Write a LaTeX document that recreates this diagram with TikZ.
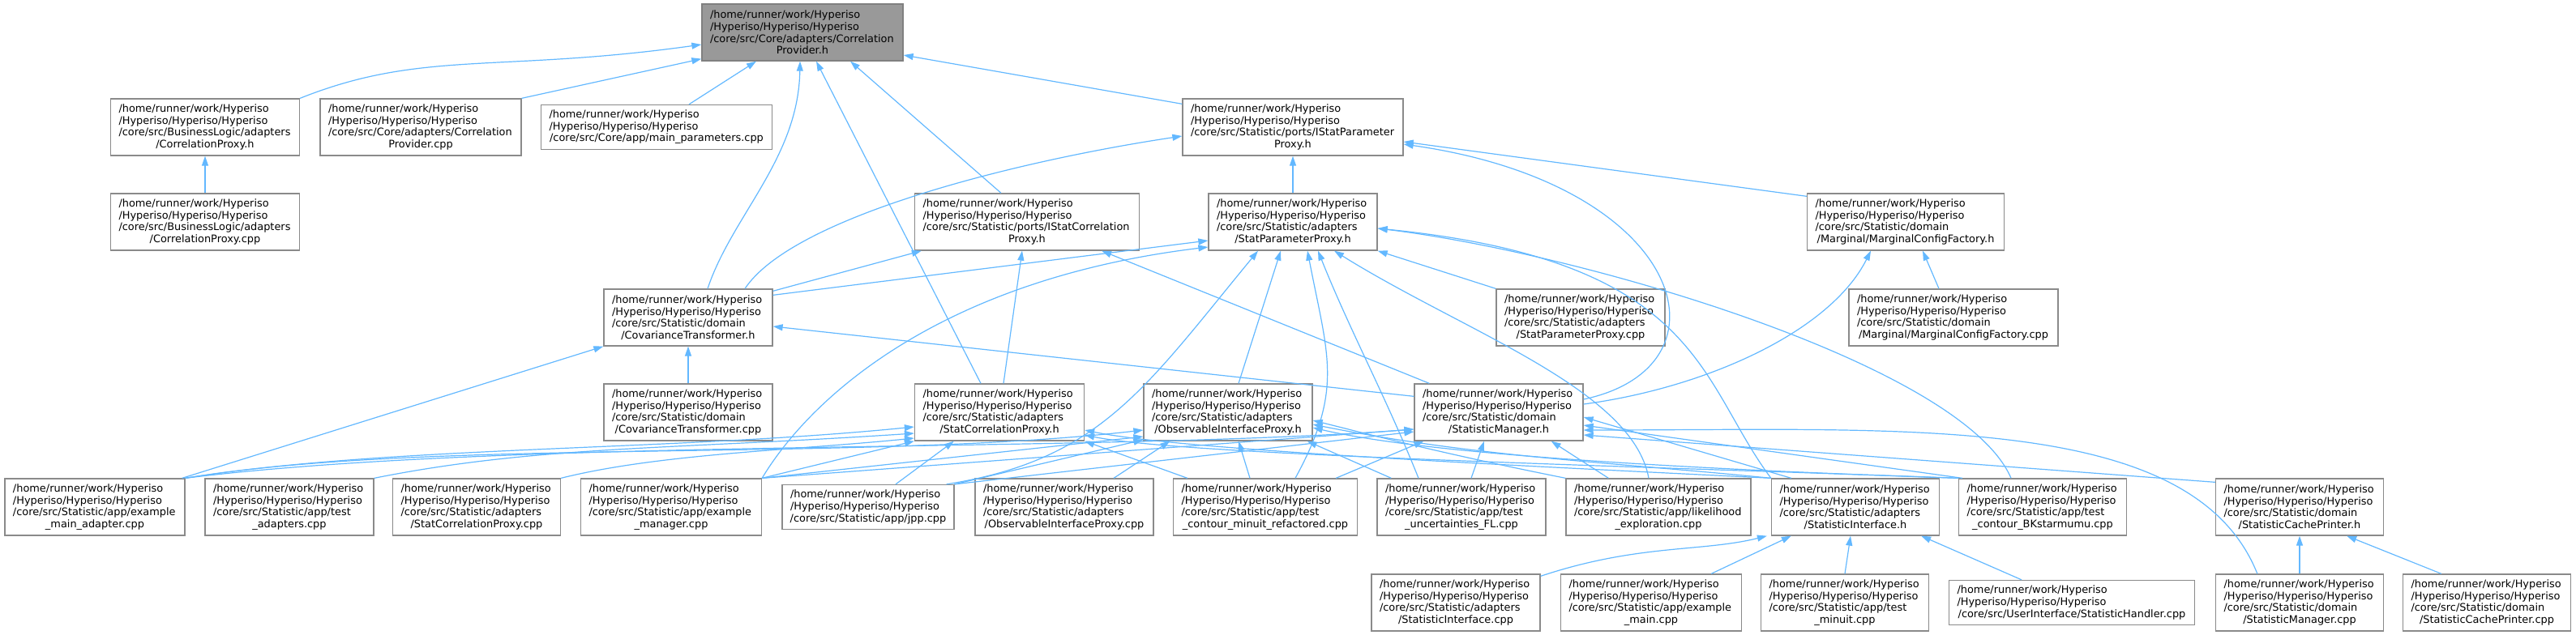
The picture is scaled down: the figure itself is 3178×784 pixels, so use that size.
\documentclass[tikz,border=0pt]{standalone}
\usepackage{fontspec}
\setmainfont{DejaVu Sans}
\usetikzlibrary{arrows.meta,calc}
\definecolor{edgeblue}{HTML}{63B8FF}
\definecolor{boxgray}{HTML}{8A8A8A}
\definecolor{rootfill}{HTML}{999999}
\newcommand{\hy}{/home/runner/work/Hyperiso\\/Hyperiso/Hyperiso/Hyperiso\\}
\newcommand{\lastln}[1]{\hbox to\hsize{\hss#1\hss}}
\tikzset{
  file/.style={draw=boxgray, line width=1.3pt, fill=white, inner xsep=10pt, inner ysep=0pt,
    minimum height=70pt, align=left, font=\fontsize{12.9pt}{14.6pt}\selectfont},
  edge/.style={draw=edgeblue, line width=1.2pt, -{Triangle[length=12pt,width=8pt]}}
}
\begin{document}
\begin{tikzpicture}[x=1pt,y=-1pt]
        \useasboundingbox (0,0) rectangle (3178,784);
        % root
        \node[file, fill=rootfill, draw=gray, text width=228pt] (root) at (990,40) {\hy/core/src/Core/adapters/Correlation\\\lastln{Provider.h}};
        % rank 1
        \node[file, text width=213pt] (cpxh) at (253,157) {\hy/core/src/BusinessLogic/adapters\\\lastln{/CorrelationProxy.h}};
        \node[file, text width=228pt] (cpvcpp) at (519,157) {\hy/core/src/Core/adapters/Correlation\\\lastln{Provider.cpp}};
        \node[file, text width=265pt, minimum height=55pt] (mainpar) at (810,157) {\hy\lastln{/core/src/Core/app/main\_parameters.cpp}};
        \node[file, text width=252pt] (ispph) at (1595,157) {\hy/core/src/Statistic/ports/IStatParameter\\\lastln{Proxy.h}};
        % rank 2
        \node[file, text width=213pt] (cpxcpp) at (253,274) {\hy/core/src/BusinessLogic/adapters\\\lastln{/CorrelationProxy.cpp}};
        \node[file, text width=257pt] (iscph) at (1267,274) {\hy/core/src/Statistic/ports/IStatCorrelation\\\lastln{Proxy.h}};
        \node[file, text width=188pt] (spph) at (1595,274) {\hy/core/src/Statistic/adapters\\\lastln{/StatParameterProxy.h}};
        \node[file, text width=223pt] (mcfh) at (2351,274) {\hy/core/src/Statistic/domain\\\lastln{/Marginal/MarginalConfigFactory.h}};
        % rank 3
        \node[file, text width=188pt] (cth) at (849,392) {\hy/core/src/Statistic/domain\\\lastln{/CovarianceTransformer.h}};
        \node[file, text width=188pt] (sppcpp) at (1950,392) {\hy/core/src/Statistic/adapters\\\lastln{/StatParameterProxy.cpp}};
        \node[file, text width=238pt] (mcfcpp) at (2410,392) {\hy/core/src/Statistic/domain\\\lastln{/Marginal/MarginalConfigFactory.cpp}};
        % rank 4
        \node[file, text width=188pt] (ctcpp) at (849,509) {\hy/core/src/Statistic/domain\\\lastln{/CovarianceTransformer.cpp}};
        \node[file, text width=189pt] (scph) at (1233,509) {\hy/core/src/Statistic/adapters\\\lastln{/StatCorrelationProxy.h}};
        \node[file, text width=188pt] (oiph) at (1515,509) {\hy/core/src/Statistic/adapters\\\lastln{/ObservableInterfaceProxy.h}};
        \node[file, text width=188pt] (smh) at (1849,509) {\hy/core/src/Statistic/domain\\\lastln{/StatisticManager.h}};
        % rank 5
        \node[file, text width=202pt] (ema) at (117,626) {\hy/core/src/Statistic/app/example\\\lastln{\_main\_adapter.cpp}};
        \node[file, text width=188pt] (tad) at (357,626) {\hy/core/src/Statistic/app/test\\\lastln{\_adapters.cpp}};
        \node[file, text width=187pt] (scpcpp) at (588,626) {\hy/core/src/Statistic/adapters\\\lastln{/StatCorrelationProxy.cpp}};
        \node[file, text width=203pt] (emg) at (828,626) {\hy/core/src/Statistic/app/example\\\lastln{\_manager.cpp}};
        \node[file, text width=192pt, minimum height=55pt] (jpp) at (1071,626) {\hy\lastln{/core/src/Statistic/app/jpp.cpp}};
        \node[file, text width=200pt] (oipcpp) at (1313,626) {\hy/core/src/Statistic/adapters\\\lastln{/ObservableInterfaceProxy.cpp}};
        \node[file, text width=207pt] (tcmr) at (1561,626) {\hy/core/src/Statistic/app/test\\\lastln{\_contour\_minuit\_refactored.cpp}};
        \node[file, text width=188pt] (tufl) at (1803,626) {\hy/core/src/Statistic/app/test\\\lastln{\_uncertainties\_FL.cpp}};
        \node[file, text width=208pt] (lhe) at (2046,626) {\hy/core/src/Statistic/app/likelihood\\\lastln{\_exploration.cpp}};
        \node[file, text width=187pt] (sih) at (2289,626) {\hy/core/src/Statistic/adapters\\\lastln{/StatisticInterface.h}};
        \node[file, text width=187pt] (tcbk) at (2520,626) {\hy/core/src/Statistic/app/test\\\lastln{\_contour\_BKstarmumu.cpp}};
        \node[file, text width=187pt] (scprh) at (2837,626) {\hy/core/src/Statistic/domain\\\lastln{/StatisticCachePrinter.h}};
        % rank 6
        \node[file, text width=188pt] (sicpp) at (1796,744) {\hy/core/src/Statistic/adapters\\\lastln{/StatisticInterface.cpp}};
        \node[file, text width=203pt] (exmain) at (2037,744) {\hy/core/src/Statistic/app/example\\\lastln{\_main.cpp}};
        \node[file, text width=187pt] (tmin) at (2276,744) {\hy/core/src/Statistic/app/test\\\lastln{\_minuit.cpp}};
        \node[file, text width=283pt, minimum height=55pt] (shcpp) at (2556,744) {\hy\lastln{/core/src/UserInterface/StatisticHandler.cpp}};
        \node[file, text width=187pt] (smcpp) at (2837,744) {\hy/core/src/Statistic/domain\\\lastln{/StatisticManager.cpp}};
        \node[file, text width=187pt] (scprcpp) at (3068,744) {\hy/core/src/Statistic/domain\\\lastln{/StatisticCachePrinter.cpp}};

        % into root
        \draw[edge] (cpxh.north east) .. controls +(150,-60) and +(-250,35) .. ($(root.west)+(0,15)$);
        \draw[edge] (cpvcpp.north east) -- ($(root.south west)+(0,-3)$);
        \draw[edge] ($(mainpar.north)+(40,0)$) -- ($(root.south)+(-57,0)$);
        \draw[edge] ($(cth.north)+(24,0)$) .. controls +(30,-90) and +(-2,120) .. ($(root.south)+(-3,0)$);
        \draw[edge] ($(iscph.north)+(-32,0)$) -- ($(root.south)+(59,0)$);
        \draw[edge] ($(scph.north)+(-23,0)$) -- ($(root.south)+(17,0)$);
        \draw[edge] ($(ispph.north west)+(0,7)$) -- ($(root.east)+(0,28)$);
        \draw[edge] (cpxcpp) -- (cpxh);
        % into IStatParameterProxy.h
        \draw[edge] ($(cth.north)+(70,0)$) .. controls +(60,-90) and +(-200,30) .. ($(ispph.west)+(0,11)$);
        \draw[edge] (spph) -- (ispph);
        \draw[edge] ($(mcfh.north west)+(0,4)$) -- ($(ispph.east)+(0,18)$);
        \draw[edge] ($(smh.east)+(0,-16)$) .. controls +(190,-40) and +(350,50) .. ($(ispph.east)+(0,21)$);
        % into IStatCorrelationProxy.h
        \draw[edge] ($(scph.north)+(5,0)$) -- ($(iscph.south)+(-6,0)$);
        \draw[edge] ($(cth.north east)+(0,3)$) -- ($(iscph.south west)+(9,0)$);
        \draw[edge] ($(smh.north west)+(19,0)$) -- ($(iscph.south east)+(-47,0)$);
        % into StatParameterProxy.h
        \draw[edge] ($(cth.north east)+(0,8)$) -- ($(spph.west)+(0,23)$);
        \draw[edge] (emg.north east) .. controls +(60,-100) and +(-330,40) .. ($(spph.west)+(0,31)$);
        \draw[edge] ($(jpp.north east)+(-10,0)$) .. controls +(190,-30) and +(-140,170) .. ($(spph.south)+(-43,0)$);
        \draw[edge] ($(oiph.north)+(13,0)$) -- ($(spph.south)+(-15,0)$);
        \draw[edge] ($(tcmr.north)+(37,0)$) .. controls +(60,-110) and +(25,130) .. ($(spph.south)+(18,0)$);
        \draw[edge] ($(tufl.north)+(-53,0)$) .. controls +(-40,-100) and +(40,100) .. ($(spph.south)+(31,0)$);
        \draw[edge] ($(lhe.north)+(-12,0)$) .. controls +(-20,-110) and +(160,100) .. ($(spph.south)+(51,0)$);
        \draw[edge] (sppcpp.north west) -- (spph.south east);
        \draw[edge] (sih.north west) .. controls +(-90,-120) and +(400,40) .. ($(spph.east)+(0,8)$);
        \draw[edge] ($(tcbk.north)+(-39,0)$) .. controls +(-60,-140) and +(250,30) .. ($(spph.east)+(0,8)$);
        % into MarginalConfigFactory.h
        \draw[edge] ($(smh.east)+(0,-10)$) .. controls +(150,-20) and +(-50,100) .. ($(mcfh.south)+(-43,0)$);
        \draw[edge] ($(mcfcpp.north)+(-18,0)$) -- ($(mcfh.south)+(21,0)$);
        % into CovarianceTransformer.h
        \draw[edge] (ctcpp) -- (cth);
        \draw[edge] ($(ema.north east)+(-4,0)$) -- (cth.south west);
        \draw[edge] ($(smh.north west)+(0,16)$) -- ($(cth.east)+(0,11)$);
        % into StatCorrelationProxy.h
        \draw[edge] (ema.north east) .. controls +(250,-40) and +(-300,30) .. ($(scph.west)+(0,18)$);
        \draw[edge] (tad.north east) .. controls +(200,-40) and +(-300,20) .. ($(scph.west)+(0,26)$);
        \draw[edge] (scpcpp.north east) .. controls +(120,-30) and +(-150,15) .. ($(scph.west)+(0,32)$);
        \draw[edge] (emg.north east) -- (scph.south west);
        \draw[edge] ($(jpp.north)+(34,0)$) -- ($(scph.south west)+(49,0)$);
        \draw[edge] ($(tcmr.north west)+(18,0)$) -- (scph.south east);
        \draw[edge] (sih.north west) .. controls +(-300,-15) and +(120,25) .. ($(scph.east)+(0,22)$);
        \draw[edge] (tcbk.north west) .. controls +(-400,-15) and +(120,25) .. ($(scph.east)+(0,28)$);
        % into ObservableInterfaceProxy.h
        \draw[edge] (ema.north east) .. controls +(300,-50) and +(-350,40) .. ($(oiph.west)+(0,22)$);
        \draw[edge] (emg.north east) -- ($(oiph.west)+(0,30)$);
        \draw[edge] (jpp.north east) -- ($(oiph.west)+(0,34)$);
        \draw[edge] ($(oipcpp.north)+(61,0)$) -- ($(oiph.south west)+(33,0)$);
        \draw[edge] ($(tcmr.north)+(-19,0)$) -- ($(oiph.south)+(13,0)$);
        \draw[edge] ($(tufl.north west)+(18,0)$) -- ($(oiph.south east)+(-7,0)$);
        \draw[edge] (lhe.north west) .. controls +(-150,-30) and +(80,20) .. ($(oiph.east)+(0,10)$);
        \draw[edge] (sih.north west) .. controls +(-200,-20) and +(200,40) .. ($(oiph.east)+(0,15)$);
        \draw[edge] (tcbk.north west) .. controls +(-300,-10) and +(150,35) .. ($(oiph.east)+(0,19)$);
        % into StatisticManager.h
        \draw[edge] (ema.north east) .. controls +(400,-50) and +(-400,30) .. ($(smh.west)+(0,21)$);
        \draw[edge] (emg.north east) -- ($(smh.west)+(0,21)$);
        \draw[edge] (jpp.north east) -- ($(smh.west)+(0,24)$);
        \draw[edge] ($(tcmr.north east)+(-27,0)$) -- ($(smh.south west)+(12,0)$);
        \draw[edge] ($(tufl.north)+(12,0)$) -- ($(smh.south)+(-18,0)$);
        \draw[edge] ($(lhe.north west)+(53,0)$) -- ($(smh.south east)+(-40,0)$);
        \draw[edge] ($(sih.north west)+(25,0)$) -- ($(smh.east)+(0,6)$);
        \draw[edge] ($(tcbk.north west)+(5,0)$) -- ($(smh.east)+(0,16)$);
        \draw[edge] ($(scprh.north west)+(0,5)$) -- ($(smh.east)+(0,28)$);
        \draw[edge] ($(smcpp.north west)+(52,0)$) .. controls +(-80,-200) and +(400,0) .. ($(smh.east)+(0,22)$);
        % into StatisticInterface.h
        \draw[edge] ($(sicpp.north east)+(0,3)$) .. controls +(120,-40) and +(-80,20) .. ($(sih.south west)+(-5,0)$);
        \draw[edge] ($(exmain.north east)+(-38,0)$) -- ($(sih.south west)+(25,0)$);
        \draw[edge] (tmin.north) -- ($(sih.south)+(-6,0)$);
        \draw[edge] ($(shcpp.north)+(-62,0)$) -- ($(sih.south east)+(-23,0)$);
        % into StatisticCachePrinter.h
        \draw[edge] (smcpp) -- (scprh);
        \draw[edge] ($(scprcpp.north west)+(48,0)$) -- ($(scprh.south east)+(-46,0)$);
    \end{tikzpicture}
\end{document}
